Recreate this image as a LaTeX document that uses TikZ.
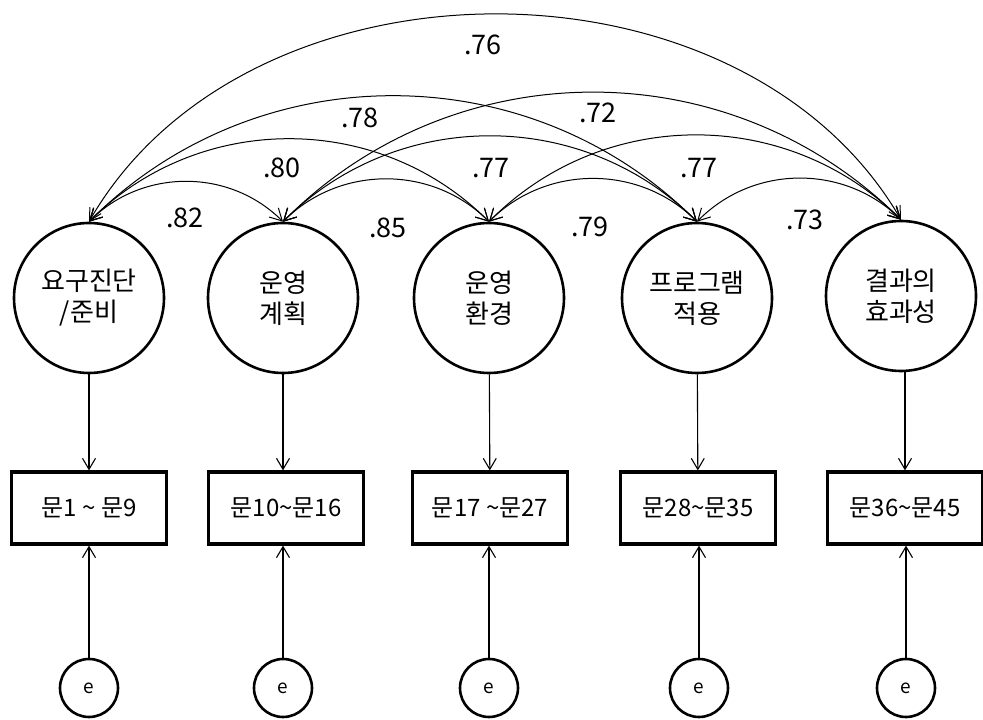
\documentclass[tikz,border=0pt]{standalone}
\usepackage{fontspec}
\setmainfont{Noto Sans CJK KR}
\usetikzlibrary{arrows.meta}
\newcommand{\til}{\textasciitilde}
\begin{document}
\begin{tikzpicture}[x=1pt,y=1pt,
 latent/.style={draw,circle,line width=2.6pt,minimum size=150pt,inner sep=0pt,align=center,font=\fontsize{26}{31}\selectfont},
 item/.style={draw,rectangle,line width=3.2pt,minimum width=155pt,minimum height=72pt,inner sep=0pt,font=\fontsize{24}{28}\selectfont},
 err/.style={draw,circle,line width=2.6pt,minimum size=58pt,inner sep=0pt,font=\fontsize{19}{22}\selectfont},
 load/.style={line width=1.1pt,-{Straight Barb[length=11pt,width=13pt]}},
 cov/.style={line width=1pt,{Straight Barb[length=12pt,width=13pt]}-{Straight Barb[length=12pt,width=13pt]}},
 coef/.style={font=\fontsize{27}{30}\selectfont}]
 \useasboundingbox (0,0) rectangle (983,720);
 % latent factors
 \node[latent] (l1) at (89,422) {요구진단\\/준비};
 \node[latent] (l2) at (283,422) {운영\\계획};
 \node[latent] (l3) at (489,422) {운영\\환경};
 \node[latent] (l4) at (697,422) {프로그램\\적용};
 \node[latent] (l5) at (901,424) {결과의\\효과성};
 % items
 \node[item] (b1) at (89,212) {문1 \til{} 문9};
 \node[item] (b2) at (286,212) {문10\til 문16};
 \node[item] (b3) at (490,212) {문17 \til 문27};
 \node[item] (b4) at (698,212) {문28\til 문35};
 \node[item] (b5) at (905,212) {문36\til 문45};
 % errors
 \node[err] (e1) at (89,32) {e};
 \node[err] (e2) at (283,32) {e};
 \node[err] (e3) at (489,32) {e};
 \node[err] (e4) at (699,32) {e};
 \node[err] (e5) at (906,32) {e};
 % loadings
 \draw[load] (l1) -- (b1);
 \draw[load] (l2.south) -- (b2.north -| l2);
 \draw[load] (l3) -- (b3);
 \draw[load] (l4) -- (b4);
 \draw[load] (l5.south -| b5) -- (b5);
 \draw[load] (e1) -- (b1);
 \draw[load] (e2) -- (b2.south -| e2);
 \draw[load] (e3) -- (b3.south -| e3);
 \draw[load] (e4) -- (b4.south -| e4);
 \draw[load] (e5) -- (b5.south -| e5);
 % correlations
 \draw[cov] (l1.north) to[bend left=45] (l2.north);
 \draw[cov] (l2.north) to[bend left=45] (l3.north);
 \draw[cov] (l3.north) to[bend left=45] (l4.north);
 \draw[cov] (l4.north) to[bend left=45] (l5.north);
 \draw[cov] (l1.north) to[bend left=45] (l3.north);
 \draw[cov] (l2.north) to[bend left=45] (l4.north);
 \draw[cov] (l3.north) to[bend left=45] (l5.north);
 \draw[cov] (l1.north) to[bend left=45] (l4.north);
 \draw[cov] (l2.north) to[bend left=45] (l5.north);
 \draw[cov] (l1.north) to[bend left=60] (l5.north);
 \node[coef] (r12) at (185,502) {.82};
 \node[coef] (r23) at (388,492) {.85};
 \node[coef] (r34) at (590,493) {.79};
 \node[coef] (r45) at (805,500) {.73};
 \node[coef] (r13) at (282,552) {.80};
 \node[coef] (r24) at (491,552) {.77};
 \node[coef] (r35) at (699,552) {.77};
 \node[coef] (r14) at (360,602) {.78};
 \node[coef] (r25) at (598,607) {.72};
 \node[coef] (r15) at (483,675) {.76};
\end{tikzpicture}
\end{document}
